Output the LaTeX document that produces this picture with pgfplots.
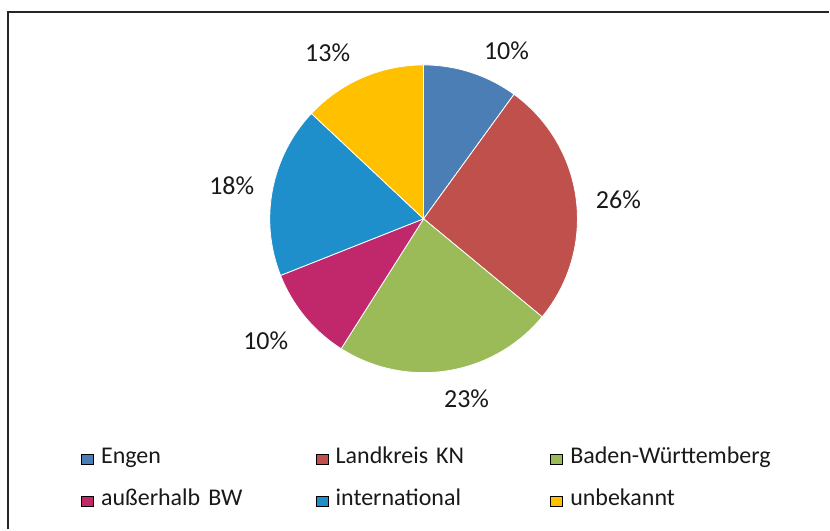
\documentclass[border=0pt]{standalone}
\usepackage{pgfplots}
\pgfplotsset{compat=1.18}
\usepackage{fontspec}
\setmainfont{Carlito}

\definecolor{cEngen}{HTML}{4A7EB5}
\definecolor{cKN}{HTML}{BF504C}
\definecolor{cBW}{HTML}{9BBB59}
\definecolor{cAusser}{HTML}{C0286B}
\definecolor{cIntl}{HTML}{1E8FCB}
\definecolor{cUnbek}{HTML}{FFC000}

% Anteile in Prozent, im Uhrzeigersinn ab 12 Uhr
\def\slices{10/cEngen, 26/cKN, 23/cBW, 10/cAusser, 18/cIntl, 13/cUnbek}
\def\cx{424}\def\cy{311}\def\rad{77pt}

\begin{document}
\begin{tikzpicture}
\begin{axis}[
  x=0.5pt, y=0.5pt, xmin=0, xmax=830, ymin=0, ymax=530,
  hide axis, clip=false,
  legend columns=3,
  legend cell align=left,
  legend image code/.code={\fill[#1] (0pt,-3pt) rectangle (6pt,2pt);},
  legend style={
    draw=none, fill=none, inner sep=0pt,
    at={(0.0976,0.1585)}, anchor=north west,
    font=\fontsize{12}{14}\selectfont, row sep=9pt, text=black!90,
    nodes={inner xsep=0pt, inner ysep=0pt, text height=9pt, text depth=3pt,
           text width=105pt, align=left},
    /tikz/every odd column/.append style={column sep=3.5pt},
    /tikz/every even column/.append style={column sep=2.5pt},
  },
]
\path (axis cs:0,0) rectangle (axis cs:830,530);
% Rahmen
\draw[line width=0.8pt, black!85] (axis cs:8,0) -- (axis cs:8,518) -- (axis cs:830,518);

\gdef\startang{90}
\foreach \v/\c in \slices {
  \pgfmathsetmacro{\endang}{\startang-3.6*\v}
  \edef\temp{\noexpand\fill[\c, draw=white, line width=0.4pt]
    (axis cs:\cx,\cy) -- ([shift={(\startang:\rad)}]axis cs:\cx,\cy)
    arc[start angle=\startang, end angle=\endang, radius=\rad] -- cycle;}
  \temp
  \xdef\startang{\endang}
}

\addlegendimage{fill=cEngen}\addlegendentry{Engen}
\addlegendimage{fill=cKN}\addlegendentry{Landkreis KN}
\addlegendimage{fill=cBW}\addlegendentry{Baden-Württemberg}
\addlegendimage{fill=cAusser}\addlegendentry{außerhalb BW}
\addlegendimage{fill=cIntl}\addlegendentry{international}
\addlegendimage{fill=cUnbek}\addlegendentry{unbekannt}

\begin{scope}[every node/.style={anchor=base, font=\fontsize{13}{15}\selectfont, text=black!90}]
\node at (axis cs:507,470) {10\%};
\node at (axis cs:619,321) {26\%};
\node at (axis cs:467,122) {23\%};
\node at (axis cs:266,180) {10\%};
\node at (axis cs:232,335) {18\%};
\node at (axis cs:328,468) {13\%};
\end{scope}
\end{axis}
\end{tikzpicture}
\end{document}
